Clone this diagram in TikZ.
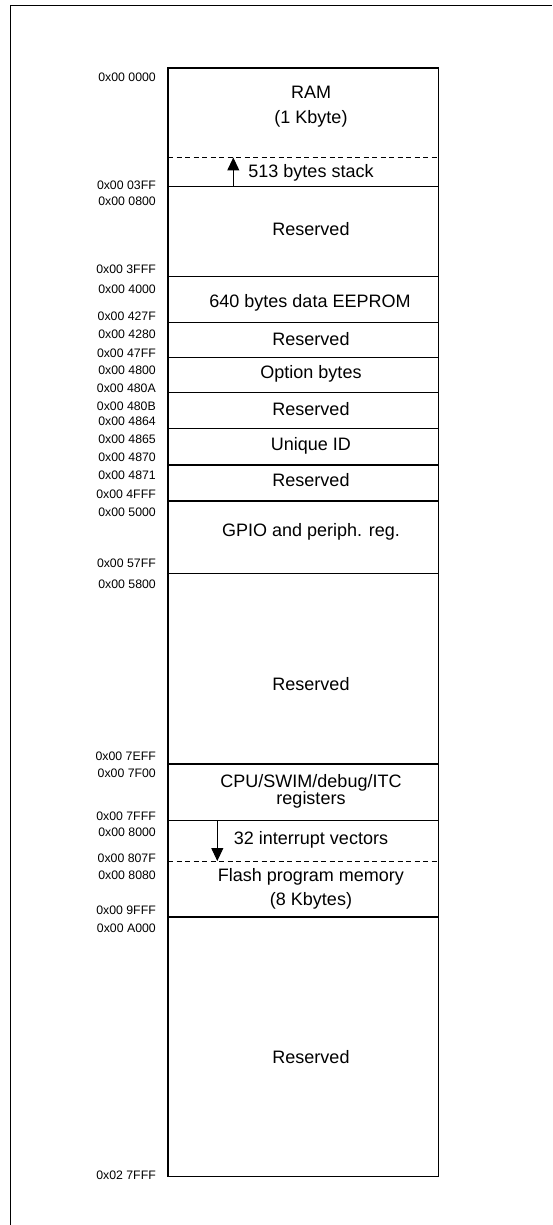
\documentclass[tikz,border=0pt]{standalone}
\usepackage{fontspec}
\setmainfont{Liberation Sans}
\usetikzlibrary{arrows.meta}
\tikzset{
  addr/.style={anchor=east, inner sep=0pt, font=\fontsize{12.3}{14}\selectfont},
  lbl/.style={inner sep=0pt, align=center, font=\fontsize{18}{23}\selectfont},
  sep/.style={line width=1.3pt},
  dsep/.style={line width=0.9pt, dash pattern=on 5pt off 3.5pt},
  arr/.style={line width=1pt, -{Triangle[length=13pt,width=12pt]}},
}
\begin{document}
\begin{tikzpicture}[x=1pt,y=-1pt]
\useasboundingbox (0,0) rectangle (552,1225);
% outer frame (cropped)
\draw[line width=0.9pt] (10,1225) -- (10,5) -- (552,5);
% memory box
\node[draw, line width=1.5pt, minimum width=270.7pt, minimum height=1108.7pt, inner sep=0pt] (mem) at (303.35,622.35) {};
% separators
\foreach \y in {186.7,276.7,322.7,357.3,392.7,428.3,465,501,573.3,764,820.7,917}
  \draw[sep] (168,\y) -- (438.7,\y);
\draw[dsep] (168,157) -- (438.7,157);
\draw[dsep] (168,861.3) -- (438.7,861.3);
% labels
\node[lbl] (ram) at (311,92.3) {RAM};
\node[lbl] (ramk) at (311,119) {(1 Kbyte)};
\node[lbl] (stack) at (311,173.3) {513 bytes stack};
\node[lbl] (res1) at (311,228.7) {Reserved};
\node[lbl] (eep) at (310,302.7) {640 bytes data EEPROM};
\node[lbl] (res2) at (311,338.7) {Reserved};
\node[lbl] (opt) at (311,374) {Option bytes};
\node[lbl] (res3) at (311,409.3) {Reserved};
\node[lbl] (uid) at (311,445.7) {Unique ID};
\node[lbl] (res4) at (311,480.3) {Reserved};
\node[lbl] (gpio) at (311,531.7) {GPIO and periph. reg.};
\node[lbl] (res5) at (311,684.5) {Reserved};
\node[lbl] (cpu) at (311,782.7) {CPU/SWIM/debug/ITC};
\node[lbl] (cpur) at (311,800) {registers};
\node[lbl] (ivec) at (311,840) {32 interrupt vectors};
\node[lbl] (flash) at (311,876.7) {Flash program memory};
\node[lbl] (flashk) at (311,901) {(8 Kbytes)};
\node[lbl] (res6) at (311,1057) {Reserved};
% addresses
\node[addr] (a1) at (156,77.3) {0x00 0000};
\node[addr] (a2) at (156,185.3) {0x00 03FF};
\node[addr] (a3) at (156,201.3) {0x00 0800};
\node[addr] (a4) at (156,269.3) {0x00 3FFF};
\node[addr] (a5) at (156,289) {0x00 4000};
\node[addr] (a6) at (156,316) {0x00 427F};
\node[addr] (a7) at (156,334.3) {0x00 4280};
\node[addr] (a8) at (156,353) {0x00 47FF};
\node[addr] (a9) at (156,370.3) {0x00 4800};
\node[addr] (a10) at (156,388.7) {0x00 480A};
\node[addr] (a11) at (156,406.3) {0x00 480B};
\node[addr] (a12) at (156,421.3) {0x00 4864};
\node[addr] (a13) at (156,439.3) {0x00 4865};
\node[addr] (a14) at (156,457.3) {0x00 4870};
\node[addr] (a15) at (156,475.3) {0x00 4871};
\node[addr] (a16) at (156,494) {0x00 4FFF};
\node[addr] (a17) at (156,512.3) {0x00 5000};
\node[addr] (a18) at (156,563.3) {0x00 57FF};
\node[addr] (a19) at (156,584) {0x00 5800};
\node[addr] (a20) at (156,756) {0x00 7EFF};
\node[addr] (a21) at (156,773.3) {0x00 7F00};
\node[addr] (a22) at (156,816.7) {0x00 7FFF};
\node[addr] (a23) at (156,832.7) {0x00 8000};
\node[addr] (a24) at (156,858.3) {0x00 807F};
\node[addr] (a25) at (156,875) {0x00 8080};
\node[addr] (a26) at (156,910.7) {0x00 9FFF};
\node[addr] (a27) at (156,928.3) {0x00 A000};
\node[addr] (a28) at (156,1175.7) {0x02 7FFF};
% arrows
\coordinate (sb) at (233.3,186.7);
\coordinate (st) at (233.3,157.5);
\draw[arr] (sb) -- (st);
\coordinate (it) at (217.3,820.7);
\coordinate (ib) at (217.3,861);
\draw[arr] (it) -- (ib);
\end{tikzpicture}
\end{document}
